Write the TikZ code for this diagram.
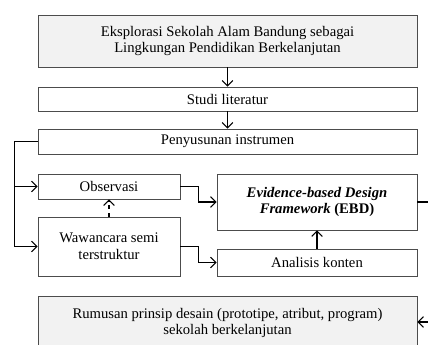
\documentclass[tikz,border=0pt]{standalone}
\usepackage{fontspec}
\setmainfont{Liberation Serif}
\usetikzlibrary{arrows.meta,calc,positioning}
\tikzset{%
	kotak/.style    = {draw=black!70, rectangle, line width=0.5pt, inner sep=0pt, text centered, align=center, font=\fontsize{11}{12.5}\selectfont},
	kotakabu/.style = {kotak, fill=black!5},
	panah/.style    = {line width=0.8pt, -{Straight Barb[length=4pt,width=8pt]}},
}
\begin{document}
\begin{tikzpicture}[x=0.75pt,y=-0.75pt]
	\useasboundingbox (0,0) rectangle (428,345);
	\clip (0,0) rectangle (428,345);
	% alur utama
	\node[kotakabu, minimum width=284.25pt, minimum height=39pt] (eksplorasi) at (227.5,41) {Eksplorasi Sekolah Alam Bandung sebagai\\Lingkungan Pendidikan Berkelanjutan};
	\node[kotak, minimum width=284.25pt, minimum height=18pt] (studi) at (227.5,99) {Studi literatur};
	\node[kotak, minimum width=284.25pt, minimum height=18.75pt] (instrumen) at (227.5,141.5) {Penyusunan instrumen};
	% pengumpulan data
	\node[kotak, minimum width=106.5pt, minimum height=18.75pt] (observasi) at (109,186.5) {Observasi};
	\node[kotak, minimum width=106.5pt, minimum height=44.25pt] (wawancara) at (109,246.5) {Wawancara semi\\terstruktur};
	\node[kotak, minimum width=150pt, minimum height=42pt] (ebd) at (317,202) {\textbf{\textit{Evidence-based Design}}\\\textbf{\textit{Framework} (EBD)}};
	\node[kotak, minimum width=150pt, minimum height=20.25pt] (analisis) at (317,262.5) {Analisis konten};
	\node[kotakabu, minimum width=284.25pt, minimum height=48pt, text depth=10pt] (rumusan) at (227.5,328) {Rumusan prinsip desain (prototipe, atribut, program)\\sekolah berkelanjutan};
	% panah
	\draw[panah] (eksplorasi) -- (studi);
	\draw[panah] (studi) -- (instrumen);
	\draw[panah] (instrumen.west) -- ++(-23,0) |- (observasi.west);
	\draw[panah] (instrumen.west) -- ++(-23,0) |- (wawancara.west);
	\draw[panah, dashed] (wawancara.north) -- (observasi.south);
	\draw[panah] (observasi.east) -- ++(18,0) |- (ebd.west);
	\draw[panah] (wawancara.east) -- ++(18,0) |- (analisis.west);
	\draw[panah] (analisis.north) -- (ebd.south);
	\draw[panah] (ebd.east) -- ++(25,0) |- ($(rumusan.east)+(0,-6)$);
\end{tikzpicture}
\end{document}
